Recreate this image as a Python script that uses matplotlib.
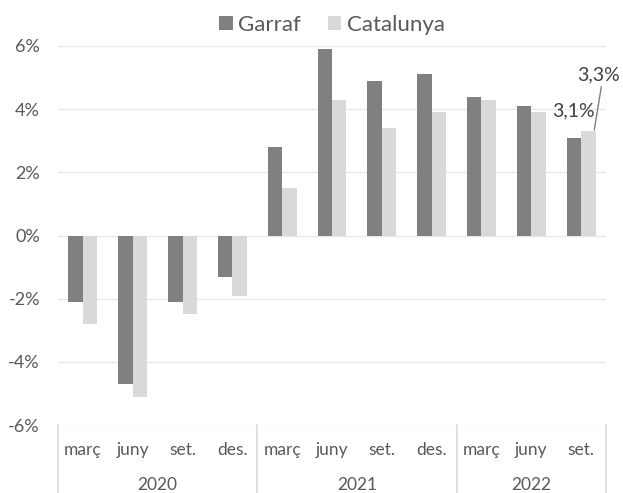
import matplotlib.pyplot as plt
from matplotlib.lines import Line2D
import numpy as np

plt.rcParams['font.family'] = ['Lato', 'DejaVu Sans']

months = ["març", "juny", "set.", "des.", "març", "juny", "set.", "des.", "març", "juny", "set."]
years = ["2020", "2021", "2022"]
year_sizes = [4, 4, 3]
garraf = [-2.1, -4.7, -2.1, -1.3, 2.8, 5.9, 4.9, 5.1, 4.4, 4.1, 3.1]
catalunya = [-2.8, -5.1, -2.5, -1.9, 1.5, 4.3, 3.4, 3.9, 4.3, 3.9, 3.3]

text_col = "#595959"
grid_col = "#e8e8e8"

fig = plt.figure(figsize=(6.23, 4.93), dpi=100)
ax = fig.add_axes([58 / 623, 68 / 493, 548 / 623, 379 / 493])

x = np.arange(len(months))
w = 0.29
ax.bar(x - w / 2, garraf, w, color="#808080", label="Garraf", zorder=3)
ax.bar(x + w / 2, catalunya, w, color="#d9d9d9", label="Catalunya", zorder=3)

ax.set_xlim(-0.5, len(months) - 0.5)
ax.set_ylim(-6, 6)
ax.set_yticks(np.arange(-6, 7, 2))
ax.set_yticklabels([f"{v}%" for v in range(-6, 7, 2)], color=text_col, fontsize=13)
ax.tick_params(axis="y", length=0, pad=13)
ax.set_xticks([])
ax.grid(axis="y", color=grid_col, linewidth=1, zorder=0)
for s in ax.spines.values():
    s.set_visible(False)

# month labels and year groups below the axis
trans = ax.get_xaxis_transform()
for i, m in enumerate(months):
    ax.text(i, -25 / 379, m, transform=trans, ha="center", va="center",
            fontsize=12.5, color=text_col)
start = -0.5
bounds = [start]
for yr, n in zip(years, year_sizes):
    ax.text(start + n / 2, -60 / 379, yr, transform=trans, ha="center", va="center",
            fontsize=12.5, color=text_col)
    start += n
    bounds.append(start)
for b in bounds:
    ax.add_line(Line2D([b, b], [0, -70 / 379], transform=trans, color="#d9d9d9",
                       linewidth=1.2, clip_on=False))

# data labels for the last period
i = len(months) - 1
ax.text(i - w / 2, 3.94, "3,1%", ha="center", va="center", fontsize=14, color="#404040")
ax.text(i + w / 2 + 0.2, 5.08, "3,3%", ha="center", va="center", fontsize=14, color="#404040")
ax.plot([i + w / 2 + 0.12, i + w / 2 + 0.26], [3.35, 4.7], color="#7f7f7f", linewidth=1, zorder=4)

ax.legend(loc="center", bbox_to_anchor=(0.5, (493 - 25 - 68) / 379), ncol=2, frameon=False,
          fontsize=16, labelcolor=text_col, handlelength=0.6, handleheight=0.6,
          handletextpad=0.25, columnspacing=1.2, borderaxespad=0)

fig.savefig("out.png", dpi=100)
